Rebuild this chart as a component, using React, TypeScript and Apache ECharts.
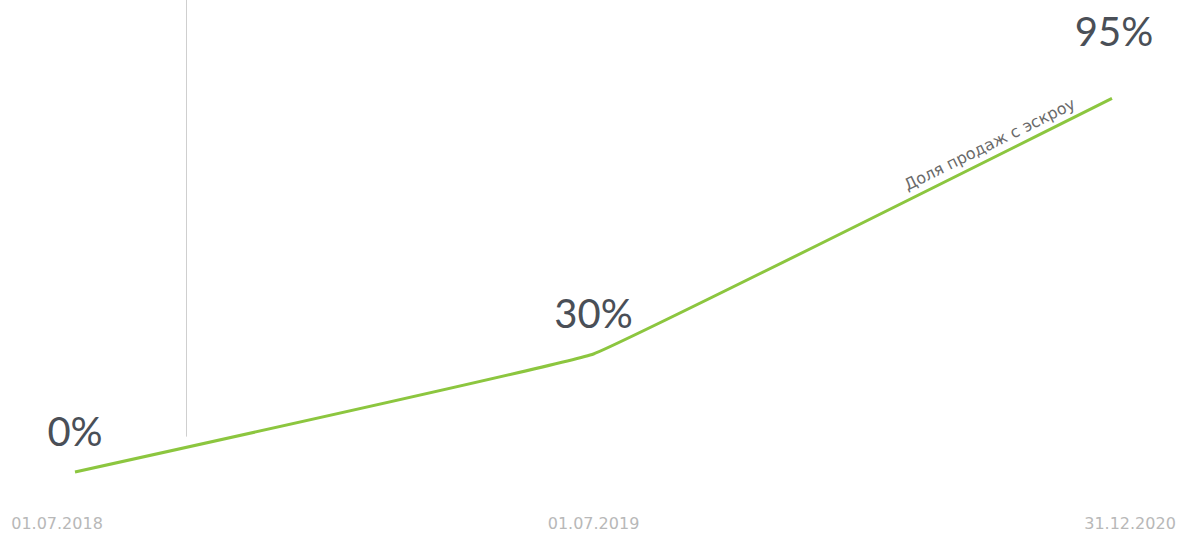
import React, { useEffect, useRef } from "react";
import * as echarts from "echarts";

const categories = ["01.07.2018", "01.07.2019", "31.12.2020"];
const shareValues = [0, 30, 95];
const seriesName = "Доля продаж с эскроу";
const markerPosition = 0.215;
const markerRange = [9, 120];

export default function App() {
  const ref = useRef<HTMLDivElement>(null);
  useEffect(() => {
    document.body.style.margin = "0";
    const chart = echarts.init(ref.current!, null, { renderer: "svg" });
    const pts = shareValues.map((v, i) => [i, v]);
    chart.setOption({
      animation: false,
      backgroundColor: "#ffffff",
      grid: [
        { left: 75, right: 74, top: 0, bottom: 65 },
        { left: 57, right: 56, top: 0, bottom: 65 },
      ],
      xAxis: [
        {
          type: "value",
          gridIndex: 0,
          min: 0,
          max: categories.length - 1,
          show: false,
        },
        {
          type: "category",
          gridIndex: 1,
          data: categories,
          boundaryGap: false,
          axisLine: { show: false },
          axisTick: { show: false },
          axisLabel: {
            color: "#b8b8b8",
            fontSize: 16,
            fontFamily: "DejaVu Sans",
            margin: 43,
          },
        },
      ],
      yAxis: [
        { type: "value", gridIndex: 0, min: 0, max: 120, show: false },
        { type: "value", gridIndex: 1, min: 0, max: 120, show: false },
      ],
      series: [
        {
          type: "line",
          name: seriesName,
          xAxisIndex: 0,
          yAxisIndex: 0,
          clip: false,
          data: pts.map((p, i) => ({
            value: p,
            label: {
              offset: i === pts.length - 1 ? [2, -26] : [0, 0],
            },
          })),
          smooth: 0.05,
          showSymbol: true,
          symbol: "circle",
          symbolSize: 0,
          itemStyle: { color: "rgba(0,0,0,0)" },
          lineStyle: { color: "#8cc63f", width: 3 },
          label: {
            show: true,
            position: "top",
            distance: 21,
            formatter: (p: any) => p.value[1] + "%",
            fontSize: 40,
            fontFamily: "Lato",
            color: "#4a4f57",
          },
          markLine: {
            silent: true,
            symbol: "none",
            data: [
              [
                {
                  coord: [markerPosition, markerRange[0]],
                  lineStyle: { color: "#cfcfcf", width: 1, type: "solid" },
                  label: { show: false },
                },
                { coord: [markerPosition, markerRange[1]] },
              ],
              [
                {
                  coord: pts[1],
                  lineStyle: { color: "rgba(0,0,0,0)", width: 0 },
                  label: {
                    show: true,
                    position: "insideEndTop",
                    formatter: seriesName,
                    fontSize: 16,
                    fontFamily: "DejaVu Sans",
                    color: "#6a6a6a",
                    distance: [36, 5],
                  },
                },
                { coord: pts[2] },
              ],
            ],
          },
        },
      ],
    });
    return () => chart.dispose();
  }, []);
  return <div ref={ref} style={{ width: 1186, height: 537 }} />;
}
